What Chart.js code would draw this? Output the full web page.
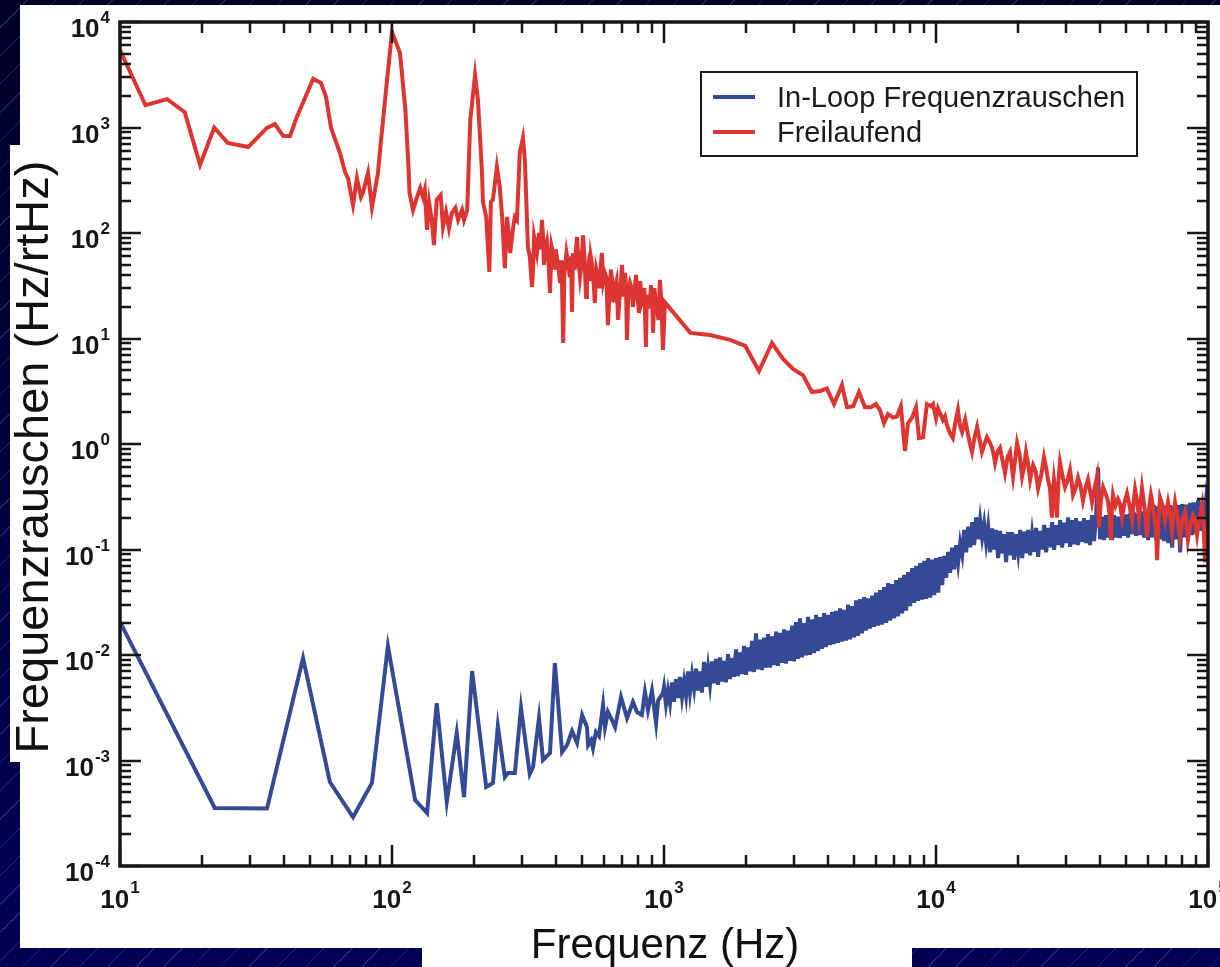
<!DOCTYPE html>
<html>
<head>
<meta charset="utf-8">
<script src="https://cdn.jsdelivr.net/npm/chart.js@4.4.1/dist/chart.umd.min.js"></script>
<style>
  html, body { margin:0; padding:0; overflow:hidden; }
  body {
    width:1220px; height:967px; position:relative;
    background:
      repeating-linear-gradient(135deg, rgba(0,0,0,0) 0px, rgba(0,0,0,0) 19px, rgba(110,120,200,0.32) 19px, rgba(110,120,200,0.32) 20px),
      linear-gradient(to bottom, #000028, #000056);
  }
  .w { position:absolute; background:#fff; }
  #cv { position:absolute; left:0; top:0; }
</style>
</head>
<body>
<div class="w" style="left:20px;top:5px;width:1200px;height:943px;"></div>
<div class="w" style="left:10px;top:145px;width:12px;height:617px;"></div>
<div class="w" style="left:422px;top:940px;width:490px;height:27px;"></div>
<canvas id="cv" width="1220" height="967"></canvas>
<script>
// ---------------- data ----------------
const xDecades = [1, 2, 3, 4, 5];
const yDecades = [-4, -3, -2, -1, 0, 1, 2, 3, 4];
const seriesNames = ['In-Loop Frequenzrauschen', 'Freilaufend'];
const xTitle = 'Frequenz (Hz)';
const yTitle = 'Frequenzrauschen (Hz/rtHz)';

// Freilaufend (red)
const redFreq = [
10,12.4,14.9,17.3,19.7,22.2,24.9,29.6,34.7,37.1,
39.8,42.2,44.7,51.3,54.8,57.2,59.7,64.4,67.2,68.9,
71.9,74.3,76.9,78.2,81.6,84.4,88.8,90.4,95.9,100,
107,112,115,116,119.5,123.6,127,130,132,134.5,
137,140,142.6,146,151,154,158,162,166,171,
175,181,184,189,194,202,207,214,216,222,
228,231,235,243,249,254,260,265,272,279,
283,288,
295,303,308,316,321,327,330,333,341,344,
347,351,356,359,362,366,371,376,381,386,
391,397,400,404,409,415,420,426,430,433,
438,444,451,455,459,463,470,475,479,485,
491,497,504,510,517,521,526,533,538,543,
550,557,564,572,580,586,591,598,606,614,
622,632,638,644,652,661,669,678,689,695,
701,710,719,725,731,740,750,760,769,779,
789,799,809,818,827,837,847,858,865,873,
884,896,904,912,922,932,942,954,966,978,
991,1008,
1250,1476,1750,1990,2235,2495,2740,2980,3240,3500,
3750,3970,4220,4510,4710,4960,5210,5480,5770,6010,
6220,6440,6660,6950,7190,7430,7690,7890,8170,8440,
8660,8960,9260,9590,9750,10000,10170,10600,10790,10970,
11250,11530,11780,12040,12250,12470,12800,13120,13340,13560,
13860,14160,14460,14760,15080,15400,15730,16070,16280,16490,
16840,17190,17560,17930,18320,18710,18950,19200,19530,19860,
20290,20720,21070,21420,21800,22180,22460,22750,23240,23730,
24340,24950,25380,25820,26250,26680,26910,27140,27490,27840,
28200,28560,29180,29800,30440,31090,31490,31890,32580,33280,
33990,34700,35460,36220,36850,37480,38280,39080,39740,40440,
41140,42000,42860,43400,43950,44340,44740,45700,46670,47490,
48310,49340,50380,51470,52570,53260,53950,54850,55760,56480,
57200,58440,59680,60670,61660,62740,63830,64410,65000,65820,
66650,68070,69500,70390,71290,72510,73740,74690,75650,77260,
78880,80570,82270,83320,84370,86210,88050,89610,91170,93110,
95060,96290,97530,98760,100000];
const redVal = [
5430,1630,1860,1400,442,1000,713,653,990,1080,
832,832,1260,2890,2640,1950,990,573,378,331,
184,331,219,240,371,176,371,612,2820,8040,
5080,1470,423,240,165,219,267,219,256,107,
192,133,76.9,206,229,114,158,111,155,173,
133,165,133,165,1180,3150,1820,396,197,142,
42.7,197,206,423,273,142,46.5,142,64.6,114,
142,133,
573,795,492,73.6,60,30.8,45,91.6,64.6,80,
100,70,133,95,49.8,70,82.2,55,27,75,
64.6,45,70,59.3,48,33.6,55,9.06,40,47.7,
65,52,38,60,17.8,64.6,45,72,91.6,55,
38.3,50,95,58,24.7,40,47.7,35,60,52,
36,21.7,45,38.3,30,50,64.6,35,41.8,38,
13.4,30,45,35.9,22,30.8,35,15,28,36,
49.8,25,41.8,30,9.7,28,33.6,30,19.9,28,
40,26,17.5,35,22,24.7,30,8.3,26,19.9,
20,32.1,25,11.3,30,22,19.9,15,35.9,22,
7.8,22,
11.3,10.8,9.7,8.5,4.92,9.06,6.4,5.14,4.5,3.11,
3.18,3.35,2.39,3.62,2.23,2.28,3.11,2.23,2.23,2.39,
2.1,1.58,1.92,1.78,1.83,2.28,0.86,1.58,1.78,2.23,
1.14,1.16,2.39,2.28,2.39,1.76,2.17,1.69,1.83,1.51,
1.27,1.14,1.6,2.1,1.5,1.3,1.7,1.22,1.0,0.84,
1.15,1.45,1.1,0.84,1.0,1.16,1.05,0.92,0.8,0.66,
0.85,0.92,0.7,0.53,0.75,0.84,0.65,0.49,0.7,1.02,
0.8,0.49,0.6,0.84,0.65,0.46,0.55,0.63,0.55,0.38,
0.5,0.75,0.6,0.46,0.38,0.2,0.35,0.46,0.35,0.2,
0.45,0.67,0.5,0.39,0.45,0.57,0.45,0.33,0.38,0.48,
0.4,0.29,0.38,0.46,0.36,0.28,0.38,0.49,0.163,0.3,
0.39,0.34,0.29,0.22,0.123,0.25,0.33,0.26,0.3,0.27,
0.2,0.28,0.34,0.26,0.19,0.28,0.37,0.29,0.2,0.27,
0.38,0.25,0.131,0.24,0.33,0.26,0.178,0.15,0.079,0.2,
0.31,0.26,0.19,0.23,0.28,0.22,0.153,0.22,0.28,0.2,
0.131,0.19,0.226,0.18,0.123,0.17,0.21,0.19,0.137,0.2,
0.264,0.17,0.076,0.14,0.178];

// In-Loop Frequenzrauschen (blue)
const blueFreq = [
10,22.3,34.7,47.1,59.1,71.9,84.4,96.6,
121.6,134.6,146,159,173,184,197,
222,235,245,260,267,283,298,
321,330,347,359,381,397,
422,440,459,479,500,521,526,
540,548,562,577,597,607,622,
644,661,695,731,769,796,829,
851,873,903,935,951,991,
1000,1017,1034,1052,1070,1088,1107,1126,
1145,1165,1185,1205,1225,1246,1268,1290,
1312,1334,1356,1379,1403,1427,1452,1476,
1501,1527,1553,1580,1607,1634,1662,1690,
1719,1749,1778,1809,1840,1871,1903,1936,
1969,2003,2037,2072,2107,2143,2179,2216,
2254,2293,2332,2372,2412,2454,2496,2538,
2582,2626,2670,2716,2762,2810,2858,2906,
2956,3007,3058,3110,3162,3217,3272,3327,
3384,3442,3501,3561,3622,3684,3746,3811,
3876,3942,4009,4078,4148,4219,4291,4364,
4438,4514,4592,4670,4750,4831,4914,4998,
5083,5170,5258,5348,5440,5533,5627,5723,
5821,5920,6022,6125,6230,6336,6445,6555,
6667,6781,6897,7015,7135,7257,7381,7507,
7636,7766,7899,8034,8171,8311,8453,8598,
8745,8894,9047,9201,9359,9519,9682,9847,
10000,10190,10360,10540,10720,10900,11080,11270,
11460,11660,11860,12060,12270,12480,
12690,12910,13130,13350,13580,13810,14050,14290,14530,14780,
15030,15290,15550,15810,16090,16360,16640,16920,17210,17500,
17800,18100,18420,18730,19050,19370,19710,20050,20390,20740,
21090,21450,21810,22180,22560,22940,23340,23740,24150,24560,
24980,25400,25840,26280,26730,27180,27650,28120,28600,29090,
29590,30090,30610,31130,31620,32160,32730,33290,33860,34430,
35010,35600,36220,36840,37460,38100,38760,39420,40090,40770,
41480,42190,42910,43640,44380,45140,45920,46700,47500,48310,
49140,49970,50830,51690,52580,53470,54400,55320,56270,57230,
58210,59200,60220,61240,62300,63360,64450,65550,66670,67800,
68970,70140,71350,72560,73810,75070,76360,77660,78990,80330,
81710,83100,84530,85970,87450,88940,90470,92010,93590,95180,
96820,98470,100000];
const blueVal = [
0.0206,3.55e-4,3.5e-4,9.37e-3,6.25e-4,2.91e-4,6.12e-4,0.01217,
4.22e-4,3.18e-4,3.5e-3,4.05e-4,1.82e-3,4.5e-4,7.05e-3,
5.61e-4,6.12e-4,2.12e-3,6.98e-4,7.62e-4,7.62e-4,3.15e-3,
7.45e-4,8.67e-4,2.53e-3,1.01e-3,1.18e-3,8.4e-3,
1.2e-3,1.4e-3,1.9e-3,1.47e-3,2.7e-3,2.07e-3,1.4e-3,
1.56e-3,1.31e-3,1.86e-3,1.7e-3,3.36e-3,2.07e-3,2.88e-3,
2.41e-3,2.07e-3,4.0e-3,2.53e-3,3.59e-3,2.88e-3,2.7e-3,
4.46e-3,3.0e-3,4.6e-3,2.26e-3,3.7e-3,4.36e-3,
5.0e-3,3.4e-3,4.6e-3,3.5e-3,5.5e-3,3.6e-3,5.9e-3,3.9e-3,
6.2e-3,4.0e-3,5.6e-3,4.1e-3,7.0e-3,4.4e-3,6.5e-3,4.8e-3,
7.4e-3,4.6e-3,7.0e-3,4.4e-3,8.6e-3,5.0e-3,7.6e-3,5.3e-3,
8.7e-3,5.4e-3,9.2e-3,5.2e-3,9.5e-3,5.6e-3,8.8e-3,5.5e-3,
0.0102,5.9e-3,9.4e-3,6.2e-3,0.0113,6.3e-3,0.0106,6.6e-3,
0.0122,6.5e-3,0.0118,7.0e-3,0.0136,6.9e-3,0.016,7.3e-3,
0.014,7.2e-3,0.0146,7.6e-3,0.0158,7.6e-3,0.015,8.0e-3,
0.0167,7.9e-3,0.0162,8.4e-3,0.0175,8.3e-3,0.017,8.8e-3,
0.019,8.7e-3,0.0205,9.2e-3,0.0222,9.5e-3,0.02,9.9e-3,
0.023,0.01,0.0218,0.0104,0.024,0.0109,0.0228,0.0114,
0.025,0.0119,0.024,0.0124,0.0256,0.0127,0.0262,0.013,
0.0276,0.0134,0.0268,0.0137,0.03,0.0141,0.029,0.0147,
0.033,0.0152,0.0338,0.016,0.0354,0.017,0.0345,0.0178,
0.0365,0.0185,0.039,0.019,0.0413,0.0194,0.044,0.0202,
0.048,0.0212,0.047,0.0222,0.0514,0.0232,0.054,0.0248,
0.0575,0.0264,0.061,0.029,0.0668,0.0312,0.07,0.0325,
0.0745,0.0335,0.078,0.034,0.083,0.035,0.08,0.037,
0.083,0.039,0.085,0.046,0.087,0.054,0.095,0.06,
0.104,0.065,0.11,0.075,0.115,0.09,
0.153,0.094,0.165,0.105,0.182,0.11,0.202,0.125,0.19,0.13,
0.175,0.115,0.163,0.094,0.158,0.1,0.153,0.083,0.15,0.092,
0.14,0.076,0.146,0.088,0.146,0.08,0.14,0.095,0.153,0.083,
0.148,0.092,0.153,0.088,0.14,0.095,0.16,0.085,0.15,0.1,
0.171,0.094,0.16,0.105,0.182,0.099,0.17,0.11,0.19,0.104,
0.18,0.115,0.202,0.106,0.19,0.112,0.198,0.11,0.185,0.118,
0.198,0.115,0.19,0.11,0.212,0.12,0.2,0.6,0.125,0.205,
0.123,0.212,0.13,0.2,0.123,0.212,0.13,0.205,0.128,0.212,
0.135,0.215,0.13,0.22,0.14,0.225,0.135,0.218,0.137,0.23,
0.13,0.232,0.123,0.245,0.13,0.264,0.123,0.255,0.125,0.264,
0.12,0.26,0.115,0.264,0.104,0.255,0.125,0.264,0.094,0.27,
0.13,0.266,0.137,0.276,0.137,0.28,0.142,0.294,0.15,0.285,
0.153,0.294,0.22];

const blueColor = '#354a94';
const redColor = '#dd3632';
// --------------------------------------

const toXY = (fs, vs) => fs.map((f, i) => ({ x: f, y: vs[i] }));
const FONT = '"Liberation Sans", Arial, Helvetica, sans-serif';

function drawPow(ctx, exp, x, yBase, yExpBase, align) {
  ctx.font = 'bold 26px ' + FONT;
  const w10 = ctx.measureText('10').width;
  ctx.font = 'bold 17px ' + FONT;
  const es = String(exp);
  const we = ctx.measureText(es).width;
  const total = w10 + we + 1;
  const x0 = align === 'right' ? x - total : x - total / 2;
  ctx.textAlign = 'left';
  ctx.textBaseline = 'alphabetic';
  ctx.font = 'bold 26px ' + FONT;
  ctx.fillText('10', x0, yBase);
  ctx.font = 'bold 17px ' + FONT;
  ctx.fillText(es, x0 + w10 + 1, yExpBase);
}

const deco = {
  id: 'deco',
  afterDatasetsDraw(chart) {
    const { ctx, chartArea: a, scales } = chart;
    const xs = scales.x, ys = scales.y;
    ctx.save();
    ctx.strokeStyle = '#161616';
    ctx.fillStyle = '#161616';
    ctx.lineCap = 'butt';
    ctx.lineWidth = 2.5;
    const seg = (x1, y1, x2, y2) => { ctx.beginPath(); ctx.moveTo(x1, y1); ctx.lineTo(x2, y2); ctx.stroke(); };
    xDecades.forEach((d, i) => {
      for (let m = 1; m <= 9; m++) {
        if (i === xDecades.length - 1 && m > 1) break;
        const px = Math.round(xs.getPixelForValue(m * Math.pow(10, d)));
        const L = m === 1 ? 21 : 11;
        seg(px, a.bottom, px, a.bottom - L);
        seg(px, a.top, px, a.top + L);
      }
    });
    yDecades.forEach((d, i) => {
      for (let m = 1; m <= 9; m++) {
        if (i === yDecades.length - 1 && m > 1) break;
        const py = Math.round(ys.getPixelForValue(m * Math.pow(10, d)));
        const L = m === 1 ? 21 : 11;
        seg(a.left, py, a.left + L, py);
        seg(a.right, py, a.right - L, py);
      }
    });
    ctx.lineWidth = 3.5;
    ctx.strokeRect(a.left, a.top, a.right - a.left, a.bottom - a.top);

    xDecades.forEach(d => {
      const px = xs.getPixelForValue(Math.pow(10, d));
      drawPow(ctx, d, px, a.bottom + 42, a.bottom + 27, 'center');
    });
    yDecades.forEach(d => {
      const py = ys.getPixelForValue(Math.pow(10, d));
      drawPow(ctx, d, a.left - 10, py + 15, py + 1, 'right');
    });

    ctx.fillStyle = '#111';
    ctx.font = '42px ' + FONT;
    ctx.textAlign = 'center';
    ctx.textBaseline = 'alphabetic';
    ctx.fillText(xTitle, 665, 958);
    ctx.save();
    ctx.translate(48, 457);
    ctx.rotate(-Math.PI / 2);
    ctx.font = '47px ' + FONT;
    ctx.fillText(yTitle, 0, 0);
    ctx.restore();

    ctx.fillStyle = '#fff';
    ctx.fillRect(701, 72, 436, 84);
    ctx.lineWidth = 2;
    ctx.strokeStyle = '#1a1a1a';
    ctx.strokeRect(701, 72, 436, 84);
    const ds = chart.data.datasets;
    const rows = [97, 132];
    ds.forEach((dset, i) => {
      ctx.strokeStyle = dset.borderColor;
      ctx.lineWidth = 4;
      seg(713, rows[i], 755, rows[i]);
      ctx.fillStyle = '#1a1a1a';
      ctx.font = '29px ' + FONT;
      ctx.textAlign = 'left';
      ctx.fillText(dset.label, 777, rows[i] + 10);
    });
    ctx.restore();
  }
};

new Chart(document.getElementById('cv'), {
  type: 'scatter',
  data: {
    datasets: [
      { label: seriesNames[0], data: toXY(blueFreq, blueVal), borderColor: blueColor, backgroundColor: blueColor,
        showLine: true, pointRadius: 0, borderWidth: 4, tension: 0, order: 1 },
      { label: seriesNames[1], data: toXY(redFreq, redVal), borderColor: redColor, backgroundColor: redColor,
        showLine: true, pointRadius: 0, borderWidth: 4, tension: 0, order: 0 }
    ]
  },
  options: {
    responsive: false,
    animation: false,
    devicePixelRatio: 1,
    events: [],
    layout: { padding: { left: 120, top: 22, right: 12, bottom: 101 } },
    scales: {
      x: { type: 'logarithmic', min: 10, max: 100000, display: false },
      y: { type: 'logarithmic', min: 1e-4, max: 1e4, display: false }
    },
    plugins: { legend: { display: false }, tooltip: { enabled: false }, title: { display: false } }
  },
  plugins: [deco]
});
</script>
</body>
</html>
